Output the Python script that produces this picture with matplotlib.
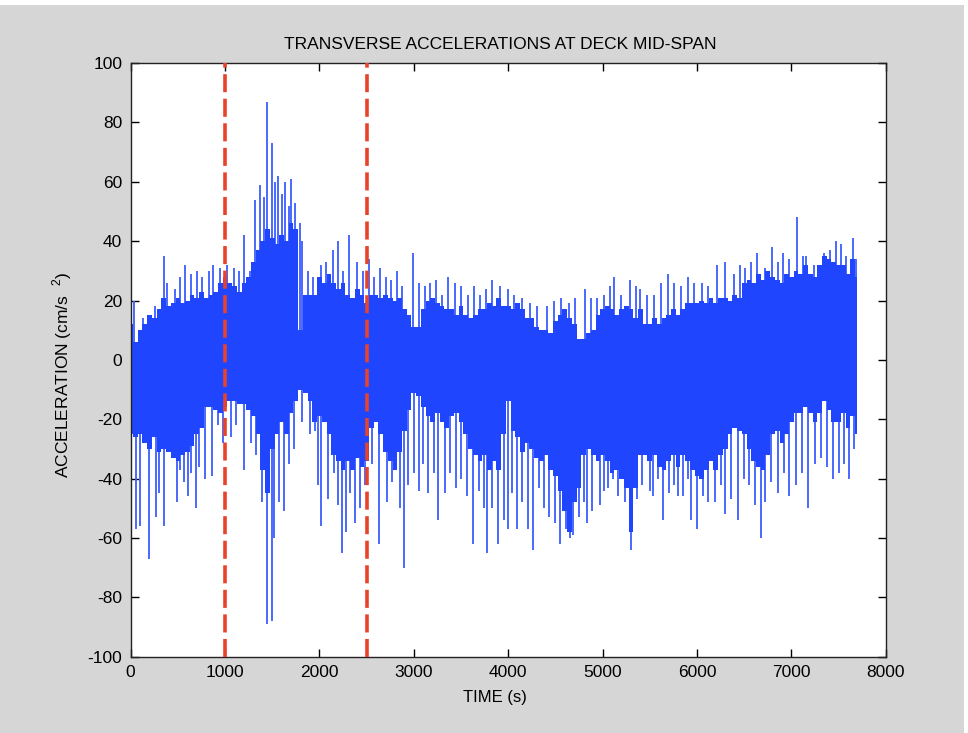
import matplotlib.pyplot as plt
from matplotlib.patches import Rectangle

# solid core of the record, read every 50 s (upper and lower edge)
env_t = list(range(0, 7701, 50))
env_hi = [12, 6, 10, 12, 15, 14, 17, 21, 18, 19, 21, 19, 20, 22, 21, 23, 21, 22, 23, 26,
          28, 26, 25, 23, 26, 28, 33, 37, 40, 44, 41, 39, 42, 40, 46, 44, 10, 22, 22, 22,
          28, 26, 29, 26, 24, 26, 22, 21, 24, 22, 19, 22, 22, 21, 22, 21, 20, 21, 17, 15,
          11, 11, 17, 20, 21, 19, 18, 17, 17, 15, 18, 15, 14, 15, 17, 17, 19, 18, 21, 18,
          18, 17, 19, 17, 14, 14, 11, 10, 10, 9, 13, 15, 17, 14, 12, 7, 7, 9, 10, 15,
          17, 18, 17, 15, 17, 18, 17, 14, 17, 12, 12, 14, 12, 14, 15, 17, 15, 17, 19, 19,
          19, 20, 19, 21, 19, 21, 21, 20, 22, 21, 26, 27, 26, 29, 27, 30, 28, 27, 26, 29,
          28, 30, 29, 32, 29, 28, 32, 35, 34, 33, 32, 32, 29, 34, 28]
env_lo = [-25, -26, -25, -28, -30, -26, -31, -30, -31, -33, -34, -32, -31, -29, -25, -23, -16, -16, -17, -18,
          -16, -14, -14, -15, -15, -17, -19, -25, -37, -45, -30, -25, -21, -25, -18, -14, -10, -11, -14, -21,
          -19, -21, -25, -32, -34, -37, -34, -37, -33, -36, -34, -23, -21, -25, -31, -34, -37, -31, -24, -17,
          -11, -12, -16, -19, -21, -18, -21, -23, -19, -18, -21, -25, -30, -32, -34, -32, -37, -34, -37, -25,
          -14, -24, -26, -31, -28, -30, -33, -34, -32, -37, -39, -44, -51, -58, -48, -43, -32, -30, -32, -34,
          -32, -34, -38, -37, -40, -43, -58, -43, -32, -32, -34, -32, -36, -37, -34, -32, -36, -32, -34, -37,
          -39, -40, -37, -34, -37, -32, -30, -25, -23, -24, -25, -30, -34, -36, -37, -32, -25, -24, -28, -25,
          -21, -18, -18, -16, -18, -21, -18, -14, -17, -21, -21, -18, -23, -19, -25]

# isolated peaks above the band
up_t = [30, 130, 260, 352, 390, 470, 520, 580, 640, 700, 760, 830, 870, 950,
        1020, 1090, 1150, 1200, 1260, 1320, 1370, 1410, 1440, 1500, 1530,
        1560, 1600, 1640, 1680, 1700, 1740, 1790, 1810, 1880, 1930,
        2018, 2073, 2146, 2201, 2250, 2318, 2401, 2460, 2529, 2580, 2640,
        2700, 2760, 2821, 2880, 2996, 3060, 3120, 3168, 3230, 3300, 3360,
        3440, 3496, 3570, 3640, 3700, 3760, 3825, 3916, 3995, 4060, 4141,
        4230, 4300, 4415, 4480, 4561, 4640, 4707, 4816, 4880, 4944, 5017,
        5080, 5119, 5200, 5291, 5350, 5400, 5473, 5550, 5620, 5692, 5760,
        5830, 5900, 5973, 6050, 6120, 6210, 6300, 6390, 6460, 6510, 6570,
        6640, 6720, 6790, 6860, 6910, 6980, 7060, 7120, 7160, 7240, 7300,
        7350, 7410, 7470, 7530, 7580, 7650, 7690]
up_a = [20, 14, 18, 35, 26, 24, 28, 32, 29, 30, 28, 30, 32, 31,
        32, 31, 30, 42, 30, 54, 59, 55, 87, 73, 60,
        62, 56, 60, 52, 61, 53, 46, 40, 30, 28,
        32, 33, 37, 40, 30, 42, 33, 30, 34, 28, 31,
        28, 27, 30, 25, 36, 26, 25, 26, 27, 22, 28,
        26, 25, 22, 25, 22, 24, 27, 25, 24, 22, 21,
        19, 18, 18, 20, 21, 19, 21, 24, 21, 21, 22,
        25, 28, 22, 27, 25, 24, 22, 22, 26, 29, 26,
        25, 28, 26, 26, 25, 32, 33, 29, 32, 31, 33,
        36, 31, 38, 33, 36, 34, 48, 35, 35, 32, 30,
        36, 37, 40, 39, 35, 41, 34]

# isolated peaks below the band
dn_t = [5, 60, 100, 190, 268, 304, 352, 425, 487, 527, 570, 607, 643, 691,
        727, 790, 862, 930, 980, 1060, 1120, 1200, 1280, 1330, 1390, 1440,
        1500, 1520, 1570, 1620, 1680, 1730, 1810, 1900, 1957, 1990, 2018,
        2092, 2150, 2201, 2237, 2281, 2321, 2373, 2427, 2480, 2560, 2632,
        2712, 2774, 2851, 2894, 2942, 3000, 3058, 3100, 3150, 3210, 3259,
        3332, 3380, 3442, 3496, 3560, 3624, 3686, 3740, 3777, 3825, 3890,
        3952, 3995, 4040, 4097, 4150, 4207, 4262, 4324, 4380, 4433, 4500,
        4550, 4616, 4660, 4689, 4754, 4800, 4835, 4889, 4970, 5020, 5061,
        5110, 5163, 5236, 5298, 5364, 5420, 5502, 5539, 5590, 5637, 5700,
        5760, 5801, 5856, 5900, 5936, 6002, 6060, 6120, 6191, 6250, 6300,
        6360, 6430, 6500, 6550, 6610, 6680, 6720, 6780, 6860, 6920, 6980,
        7050, 7110, 7180, 7250, 7310, 7380, 7440, 7500, 7560, 7610, 7660]
dn_a = [-52, -57, -56, -67, -53, -45, -56, -31, -48, -37, -41, -46, -38, -50,
        -36, -40, -39, -22, -28, -26, -22, -37, -28, -32, -48, -89,
        -88, -60, -48, -51, -35, -30, -21, -25, -24, -42, -56,
        -47, -38, -49, -65, -58, -45, -55, -50, -42, -35, -62,
        -48, -41, -50, -70, -42, -38, -44, -35, -45, -38, -54,
        -45, -38, -43, -40, -46, -62, -44, -50, -65, -50, -62,
        -54, -57, -45, -57, -48, -57, -64, -43, -50, -53, -55,
        -62, -57, -60, -59, -53, -48, -55, -51, -49, -44, -43,
        -40, -46, -48, -64, -47, -42, -44, -46, -40, -54, -45,
        -42, -46, -46, -40, -54, -57, -46, -48, -48, -42, -52,
        -47, -54, -40, -42, -49, -60, -48, -41, -45, -38, -46,
        -42, -38, -50, -35, -33, -36, -40, -38, -35, -40, -30]

marks = [1000, 2500]

plt.rcParams['font.family'] = ['Liberation Sans', 'DejaVu Sans']
plt.rcParams['mathtext.fontset'] = 'custom'
plt.rcParams['mathtext.rm'] = 'Liberation Sans'
plt.rcParams['axes.unicode_minus'] = False

fig = plt.figure(figsize=(9.68, 7.33), dpi=100, facecolor='white')
fig.patches.append(Rectangle((0, 0), 964 / 968, 728 / 733, transform=fig.transFigure,
                             facecolor='#d6d6d6', edgecolor='none', zorder=-10))
ax = fig.add_axes([0.135, 0.104, 0.780, 0.810])

blue = '#1f45ff'
# spikes go underneath the solid band so only the part outside it shows
ax.vlines(up_t, 0, up_a, color='#3b5eff', lw=1.3, zorder=2)
ax.vlines(dn_t, 0, dn_a, color='#3b5eff', lw=1.3, zorder=2)
ax.fill_between(env_t, env_lo, env_hi, step='mid', color=blue, lw=0, zorder=2.5)
for x in marks:
    ax.axvline(x, color='#e8432a', lw=2.6, dashes=(5, 1.8), zorder=3)

ax.set_xlim(0, 8000)
ax.set_ylim(-100, 100)
ax.set_xticks(range(0, 8001, 1000))
ax.set_yticks(range(-100, 101, 20))
ax.tick_params(direction='in', length=5.5, width=1, top=True, right=True,
               labelsize=12.5, pad=6)
for s in ax.spines.values():
    s.set_linewidth(1.0)
    s.set_color('#222222')

ax.set_title('TRANSVERSE ACCELERATIONS AT DECK MID-SPAN', fontsize=12.5, pad=10, x=0.489)
ax.set_xlabel('TIME (s)', fontsize=12)
ax.xaxis.set_label_coords(0.4825, -0.056)
ax.set_ylabel('ACCELERATION (cm/s  $^{2}$)', fontsize=12.5)
ax.yaxis.set_label_coords(-0.075, 0.474)

fig.savefig('out.png', dpi=100, facecolor=fig.get_facecolor())
